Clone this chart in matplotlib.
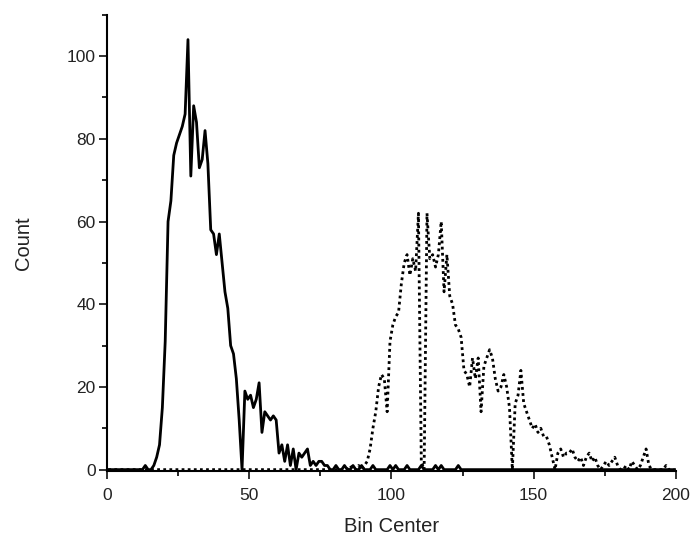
import numpy as np
import matplotlib
matplotlib.use('Agg')
import matplotlib.pyplot as plt
from matplotlib.ticker import MultipleLocator

# bin centers 0.5 ... 199.5
bin_centers = np.arange(0.5, 200, 1.0)

# solid curve, counts per bin
count_solid = [
    0, 0, 0, 0, 0, 0, 0, 0, 0, 0,            # 0-9
    0, 0, 0, 1, 0, 0, 1, 3, 6, 15,           # 10-19
    31, 60, 65, 76, 79, 81, 83, 86, 104, 71,  # 20-29
    88, 84, 73, 75, 82, 74, 58, 57, 52, 57,  # 30-39
    50, 43, 39, 30, 28, 22, 12, 0, 19, 17,   # 40-49
    18, 15, 17, 21, 9, 14, 13, 12, 13, 12,   # 50-59
    4, 6, 2, 6, 1, 5, 0, 4, 3, 4,            # 60-69
    5, 1, 2, 1, 2, 2, 1, 1, 0, 0,            # 70-79
    1, 0, 0, 1, 0, 0, 1, 0, 0, 1,            # 80-89
    0, 0, 0, 1, 0, 0, 0, 0, 0, 1,            # 90-99
    0, 1, 0, 0, 0, 1, 0, 0, 0, 0,            # 100-109
    1, 0, 0, 0, 0, 1, 0, 1, 0, 0,            # 110-119
    0, 0, 0, 1, 0, 0, 0, 0, 0, 0,            # 120-129
] + [0] * 70

# dotted curve, counts per bin
count_dotted = [0] * 85 + [
    1, 0, 0, 1, 0,                           # 85-89
    1, 2, 5, 10, 14, 20, 23, 22, 14, 31,     # 90-99
    35, 37, 38, 45, 50, 52, 47, 51, 48, 62,  # 100-109
    2, 0, 62, 51, 52, 49, 52, 60, 43, 52,    # 110-119
    42, 40, 35, 34, 32, 24, 23, 20, 27, 22,  # 120-129
    27, 14, 25, 27, 29, 27, 22, 19, 20, 23,  # 130-139
    20, 15, 0, 16, 18, 24, 16, 14, 12, 10,   # 140-149
    11, 9, 10, 8, 8, 6, 3, 0, 4, 5,          # 150-159
    3, 4, 4, 5, 3, 2, 3, 1, 3, 4,            # 160-169
    2, 3, 1, 0, 1, 2, 1, 2, 3, 1,            # 170-179
    0, 0, 1, 0, 2, 1, 0, 1, 3, 5,            # 180-189
    1, 0, 0, 0, 0, 0, 1, 0, 0, 0,            # 190-199
]

plt.rcParams['font.family'] = ['Liberation Sans', 'DejaVu Sans']

fig = plt.figure(figsize=(6.94, 5.48), dpi=100)
ax = fig.add_axes([0.154, 0.140, 0.820, 0.833])

ax.plot(bin_centers, count_solid, color='black', linewidth=2.0)
ax.plot(bin_centers, count_dotted, color='black', linewidth=2.0, linestyle=(0, (1, 1.2)))

ax.set_xlim(0, 200)
ax.set_ylim(-0.4, 110)

ax.spines['top'].set_visible(False)
ax.spines['right'].set_visible(False)
ax.spines['left'].set_linewidth(1.5)
ax.spines['bottom'].set_linewidth(1.5)

ax.xaxis.set_major_locator(MultipleLocator(50))
ax.xaxis.set_minor_locator(MultipleLocator(25))
ax.yaxis.set_major_locator(MultipleLocator(20))
ax.yaxis.set_minor_locator(MultipleLocator(10))
ax.tick_params(which='major', direction='out', length=6, width=1.3, labelsize=12.5, colors='#222222')
ax.tick_params(axis='x', which='major', pad=6)
ax.tick_params(axis='y', which='major', pad=2)
ax.tick_params(which='minor', direction='out', length=3.5, width=1.2)

ax.set_xlabel('Bin Center', fontsize=14.5, labelpad=10, color='#222222')
ax.set_ylabel('Count', fontsize=14.5, labelpad=24, color='#222222')

fig.savefig('out.png', dpi=100)
